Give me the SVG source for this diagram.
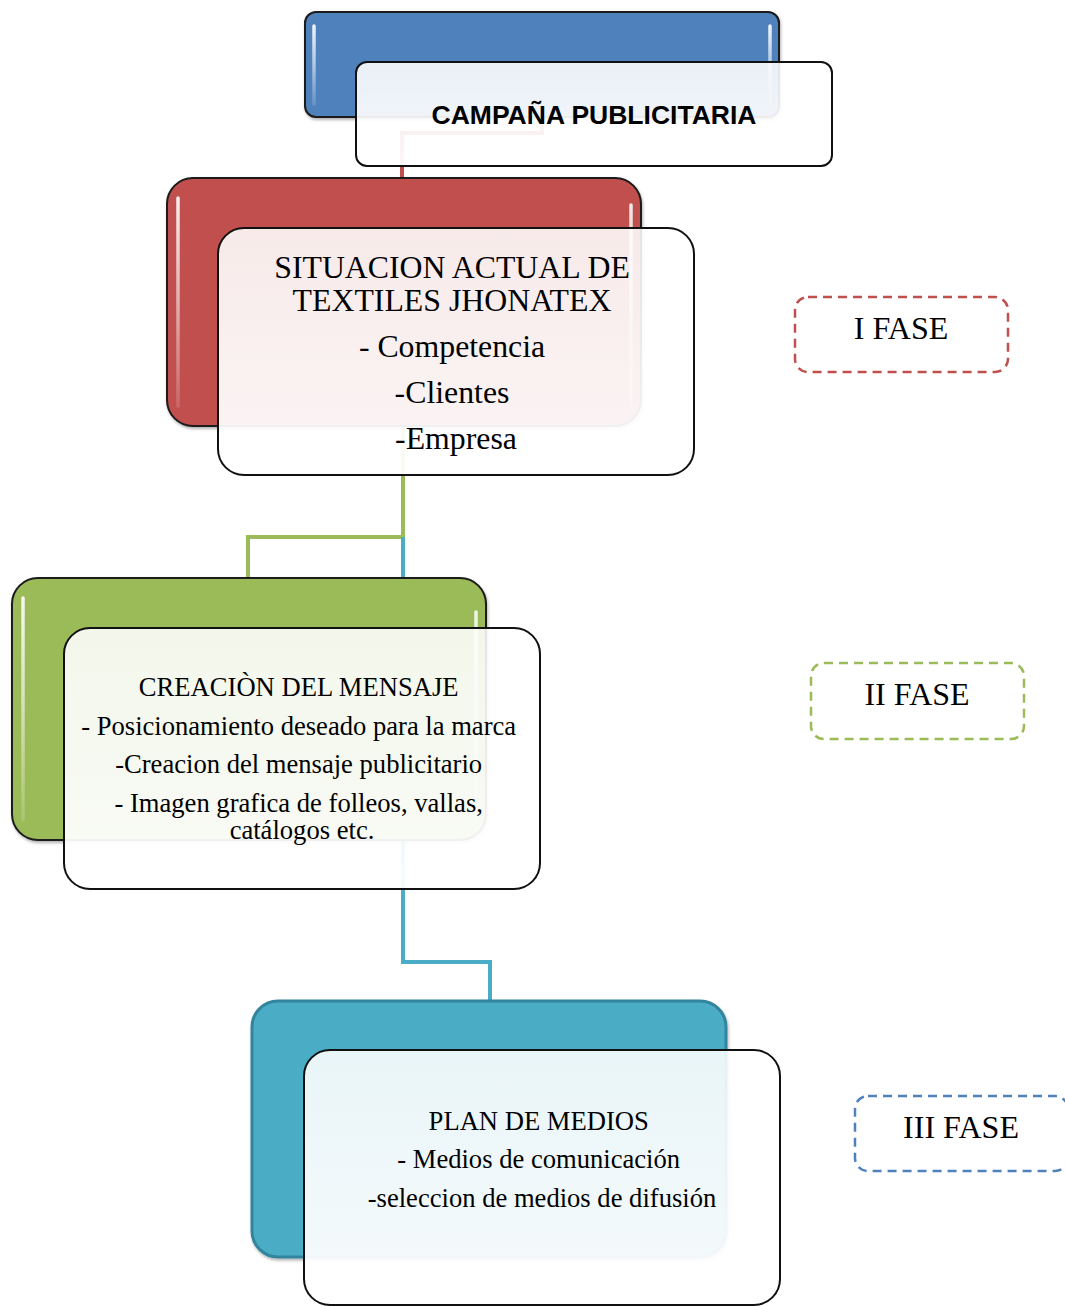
<svg xmlns="http://www.w3.org/2000/svg" width="1065" height="1306" viewBox="0 0 1065 1306">
<defs>
<linearGradient id="wg" x1="0" y1="0" x2="0" y2="1">
<stop offset="0" stop-color="#ffffff" stop-opacity="0.88"/>
<stop offset="1" stop-color="#ffffff" stop-opacity="0.95"/>
</linearGradient>
<linearGradient id="hl" x1="0" y1="0" x2="0" y2="1">
<stop offset="0" stop-color="#ffffff" stop-opacity="0.9"/>
<stop offset="0.5" stop-color="#ffffff" stop-opacity="0.55"/>
<stop offset="1" stop-color="#ffffff" stop-opacity="0.15"/>
</linearGradient>
<filter id="sh" x="-5%" y="-5%" width="112%" height="115%">
<feDropShadow dx="1" dy="2" stdDeviation="1.5" flood-color="#000" flood-opacity="0.3"/>
</filter>
</defs>
<style>
.col{stroke:#1a1a1a;stroke-width:2;filter:url(#sh)}
.wht{fill:url(#wg);stroke:#111;stroke-width:2}
.hl{stroke:url(#hl);stroke-width:3.5;stroke-linecap:round;fill:none}
.t{font-family:"Liberation Serif","Times New Roman",serif;fill:#000;text-anchor:middle}
.h{font-family:"Liberation Sans",Arial,sans-serif;font-weight:bold;fill:#000;text-anchor:middle}
.dash{fill:none;stroke-width:2.5;stroke-dasharray:9 6}
.con{fill:none;stroke-width:4}
</style>
<rect width="1065" height="1306" fill="#ffffff"/>

<g id="connectors">
<path class="con" stroke="#C0504D" d="M542 117 V133 H402 V178"/>
<path class="con" stroke="#9BBB59" d="M403 426 V537 H248 V578"/>
<path class="con" stroke="#4BACC6" d="M403 537 V962 H490 V1000"/>
</g>

<g id="node-campana">
<rect class="col" x="305" y="12" width="474" height="105" rx="11" fill="#4F81BD"/>
<path class="hl" d="M314 26 V104 M770 26 V104"/>
<rect class="wht" x="356" y="62" width="476" height="104" rx="11"/>
<text class="h" x="594" y="124" font-size="26.5">CAMPAÑA PUBLICITARIA</text>
</g>

<g id="node-situacion">
<rect class="col" x="167" y="178" width="474" height="248" rx="26" fill="#C0504D"/>
<path class="hl" d="M178 198 V406 M631 205 V406"/>
<rect class="wht" x="218" y="228" width="476" height="247" rx="26"/>
<text class="t" font-size="31.8">
<tspan x="456" y="278">SITUACION ACTUAL DE</tspan>
<tspan x="456" y="311">TEXTILES JHONATEX</tspan>
<tspan x="456" y="357">- Competencia</tspan>
<tspan x="456" y="403">-Clientes</tspan>
<tspan x="456" y="449">-Empresa</tspan>
</text>
</g>

<g id="node-creacion">
<rect class="col" x="12" y="578" width="474" height="262" rx="26" fill="#9BBB59"/>
<path class="hl" d="M23 598 V820 M476 612 V820"/>
<rect class="wht" x="64" y="628" width="476" height="261" rx="26"/>
<text class="t" font-size="26.6">
<tspan x="302" y="696">CREACIÒN DEL MENSAJE</tspan>
<tspan x="302" y="735">- Posicionamiento deseado para la marca</tspan>
<tspan x="302" y="773">-Creacion del mensaje publicitario</tspan>
<tspan x="302" y="812">- Imagen grafica de folleos, vallas,</tspan>
<tspan x="302" y="839">catálogos etc.</tspan>
</text>
</g>

<g id="node-plan">
<rect x="252" y="1001" width="474" height="256" rx="26" fill="#4BACC6" stroke="#31859C" stroke-width="3" filter="url(#sh)"/>
<rect class="wht" x="304" y="1050" width="476" height="255" rx="26"/>
<text class="t" font-size="26.6">
<tspan x="542" y="1130">PLAN DE MEDIOS</tspan>
<tspan x="542" y="1168">- Medios de comunicación</tspan>
<tspan x="542" y="1207">-seleccion de medios de difusión</tspan>
</text>
</g>

<g id="fase-1">
<rect class="dash" x="795" y="297" width="213" height="75" rx="13" stroke="#C0504D"/>
<text class="t" x="901" y="339" font-size="32">I FASE</text>
</g>
<g id="fase-2">
<rect class="dash" x="811" y="663" width="213" height="76" rx="13" stroke="#9BBB59"/>
<text class="t" x="917" y="705" font-size="32">II FASE</text>
</g>
<g id="fase-3">
<rect class="dash" x="855" y="1096" width="213" height="75" rx="13" stroke="#4F81BD"/>
<text class="t" x="961" y="1138" font-size="32">III FASE</text>
</g>
</svg>
